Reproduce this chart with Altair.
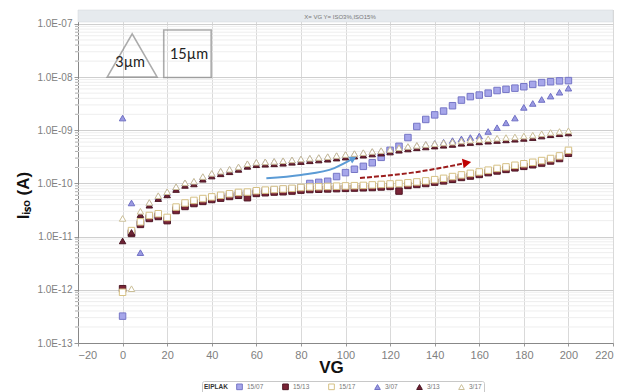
import altair as alt
import pandas as pd

VG = list(range(0, 201, 4))

S15_07 = [3.2e-13, 1.2e-11, 1.8e-11, 2.3e-11, 2.5e-11, 2.1e-11, 3.3e-11, 3.9e-11, 4.4e-11, 4.8e-11,
          5.2e-11, 5.7e-11, 6.1e-11, 6.5e-11, 6.6e-11, 7.0e-11, 7.3e-11, 7.5e-11, 7.7e-11, 7.9e-11,
          8.3e-11, 1.0e-10, 1.05e-10, 1.1e-10, 1.35e-10, 1.6e-10, 1.85e-10, 2.1e-10, 2.45e-10, 3.1e-10,
          4.2e-10, 5.0e-10, 7.3e-10, 1.18e-9, 1.6e-9, 1.95e-9, 2.3e-9, 2.9e-9, 3.7e-9, 4.3e-9,
          4.6e-9, 5.0e-9, 5.6e-9, 5.9e-9, 6.2e-9, 6.6e-9, 7.3e-9, 7.9e-9, 8.2e-9, 8.5e-9,
          8.6e-9]
S15_13 = [1.05e-12, 1.15e-11, 1.7e-11, 2.2e-11, 2.4e-11, 2.0e-11, 3.1e-11, 3.7e-11, 4.2e-11, 4.6e-11,
          5.0e-11, 5.3e-11, 5.7e-11, 6.0e-11, 5.4e-11, 6.5e-11, 6.7e-11, 6.9e-11, 7.0e-11, 7.2e-11,
          7.5e-11, 7.7e-11, 7.8e-11, 7.9e-11, 8.0e-11, 8.1e-11, 8.2e-11, 8.3e-11, 8.4e-11, 8.6e-11,
          8.8e-11, 7.2e-11, 9.2e-11, 9.6e-11, 1.0e-10, 1.06e-10, 1.12e-10, 1.2e-10, 1.3e-10, 1.38e-10,
          1.48e-10, 1.6e-10, 1.72e-10, 1.84e-10, 1.97e-10, 2.1e-10, 2.25e-10, 2.42e-10, 2.65e-10, 2.95e-10,
          3.7e-10]
S15_17 = [9.0e-13, 1.3e-11, 1.9e-11, 2.5e-11, 2.7e-11, 2.3e-11, 3.6e-11, 4.3e-11, 4.8e-11, 5.2e-11,
          5.6e-11, 6.0e-11, 6.4e-11, 6.8e-11, 6.9e-11, 7.3e-11, 7.5e-11, 7.7e-11, 7.9e-11, 8.1e-11,
          8.4e-11, 8.6e-11, 8.7e-11, 8.8e-11, 8.9e-11, 9.0e-11, 9.1e-11, 9.2e-11, 9.4e-11, 9.6e-11,
          9.8e-11, 1.0e-10, 1.03e-10, 1.07e-10, 1.12e-10, 1.18e-10, 1.25e-10, 1.35e-10, 1.45e-10, 1.55e-10,
          1.65e-10, 1.78e-10, 1.92e-10, 2.05e-10, 2.2e-10, 2.35e-10, 2.5e-10, 2.7e-10, 2.95e-10, 3.3e-10,
          4.2e-10]
S3_07 = [1.7e-9, 4.3e-11, 5.0e-12, 4.3e-11, 5.7e-11, 6.8e-11, 8.5e-11, 1.02e-10, 1.08e-10, 1.32e-10,
         1.52e-10, 1.68e-10, 1.82e-10, 2.02e-10, 2.32e-10, 2.47e-10, 2.52e-10, 2.58e-10, 2.64e-10, 2.74e-10,
         2.84e-10, 2.94e-10, 3.04e-10, 3.15e-10, 3.3e-10, 3.45e-10, 3.6e-10, 3.75e-10, 3.95e-10, 4.1e-10,
         4.3e-10, 4.65e-10, 4.9e-10, 5.15e-10, 5.4e-10, 5.65e-10, 5.95e-10, 6.4e-10, 6.9e-10, 7.3e-10,
         7.8e-10, 9.5e-10, 1.12e-9, 1.38e-9, 1.7e-9, 2.7e-9, 3.2e-9, 3.8e-9, 4.4e-9, 5.2e-9,
         6.2e-9]
S3_13 = [8.3e-12, 1.2e-11, 2.6e-11, 3.9e-11, 5.2e-11, 6.1e-11, 7.7e-11, 9.2e-11, 9.8e-11, 1.2e-10,
         1.38e-10, 1.52e-10, 1.66e-10, 1.84e-10, 2.1e-10, 2.25e-10, 2.3e-10, 2.34e-10, 2.4e-10, 2.5e-10,
         2.58e-10, 2.67e-10, 2.76e-10, 2.86e-10, 3.0e-10, 3.13e-10, 3.27e-10, 3.4e-10, 3.58e-10, 3.72e-10,
         3.9e-10, 4.22e-10, 4.45e-10, 4.68e-10, 4.86e-10, 5.05e-10, 5.23e-10, 5.42e-10, 5.7e-10, 5.88e-10,
         6.06e-10, 6.25e-10, 6.43e-10, 6.6e-10, 6.8e-10, 7.05e-10, 7.3e-10, 7.8e-10, 8.25e-10, 8.6e-10,
         8.9e-10]
S3_17 = [2.2e-11, 1.05e-12, 3.0e-11, 4.4e-11, 5.9e-11, 7.0e-11, 8.7e-11, 1.03e-10, 1.1e-10, 1.35e-10,
         1.55e-10, 1.7e-10, 1.85e-10, 2.05e-10, 2.35e-10, 2.5e-10, 2.55e-10, 2.6e-10, 2.68e-10, 2.78e-10,
         2.88e-10, 2.98e-10, 3.08e-10, 3.2e-10, 3.35e-10, 3.5e-10, 3.65e-10, 3.8e-10, 4.0e-10, 4.15e-10,
         4.35e-10, 4.7e-10, 4.95e-10, 5.2e-10, 5.4e-10, 5.6e-10, 5.8e-10, 6.0e-10, 6.3e-10, 6.5e-10,
         6.7e-10, 6.9e-10, 7.1e-10, 7.3e-10, 7.5e-10, 7.8e-10, 8.1e-10, 8.6e-10, 9.1e-10, 9.5e-10,
         9.8e-10]

SERIES = ["15/07", "15/13", "15/17", "3/07", "3/13", "3/17"]
SHAPES = ["square", "square", "square", "triangle-up", "triangle-up", "triangle-up"]
FILLS = ["#a6a6ea", "#7a2436", "#ffffff", "#9a9ae2", "#6e2234", "#ffffff"]
STROKES = ["#7676c6", "#4e1624", "#d6c184", "#7070c4", "#4a1422", "#cbbf98"]

Y_TICKS = [1e-13, 1e-12, 1e-11, 1e-10, 1e-9, 1e-8, 1e-7]
X_TICKS = list(range(-20, 221, 20))

# annotation anchors (data units)
ANN_TRI = {"VG": 4.3, "I": 2.55e-8}
ANN_TRI_TXT = {"VG": 3.4, "I": 1.85e-8, "t": "3µm"}
ANN_SQ = {"VG": 29.1, "I": 2.75e-8}
ANN_SQ_TXT = {"VG": 29.8, "I": 2.6e-8, "t": "15µm"}
BLUE_ARROW_VG = [64.5, 80, 95, 103.5]
BLUE_ARROW_I = [1.26e-10, 1.45e-10, 1.95e-10, 2.95e-10]
RED_ARROW_VG = [106.5, 130, 154.5]
RED_ARROW_I = [1.27e-10, 1.6e-10, 2.45e-10]

rows = []
for name, vals in zip(SERIES, [S15_07, S15_13, S15_17, S3_07, S3_13, S3_17]):
    for v, y in zip(VG, vals):
        rows.append({"VG": v, "I": y, "series": name})
df = pd.DataFrame(rows)

minor = []
for e in range(-13, -7):
    for m in range(2, 10):
        minor.append({"I": m * 10.0 ** e})
minor_df = pd.DataFrame(minor)

FONT = "Liberation Sans"
label_expr = ("'1.0E-' + (abs(round(log(datum.value)/LN10)) < 10 ? '0' : '') + "
              "abs(round(log(datum.value)/LN10))")

xscale = alt.Scale(domain=[-20, 220], nice=False, zero=False)
yscale = alt.Scale(type="log", domain=[1e-13, 1.83e-7], nice=False)

xaxis = alt.Axis(values=X_TICKS, title="VG", labelFont=FONT, labelFontSize=11,
                 labelColor="#808080", tickSize=3, tickColor="#999", domainColor="#888",
                 gridColor="#d9d9d9", labelPadding=3, titleFont=FONT, titleFontSize=17,
                 titleFontWeight="bold", titleColor="#111", titleX=253, titleY=24,
                 titleBaseline="middle")
yaxis = alt.Axis(values=Y_TICKS, labelExpr=label_expr, title="Iᵢₛₒ (A)", labelFont=FONT,
                 labelFontSize=10, labelColor="#808080", tickSize=4, tickColor="#999",
                 domainColor="#888", gridColor="#cfcfcf", labelPadding=2, titleFont=FONT,
                 titleFontSize=17, titleFontWeight="bold", titleColor="#111",
                 titleX=-55, titleY=185, titleAngle=270, titleAlign="center",
                 titleBaseline="middle")


def X():
    return alt.X("VG:Q", scale=xscale, axis=xaxis)


def Y():
    return alt.Y("I:Q", scale=yscale, axis=yaxis)


dummy = alt.Data(values=[{}])

header = alt.Chart(dummy).mark_rect(fill="#e6eaee", stroke="#d0d4d8", strokeWidth=0.5).encode(
    x=alt.value(0), x2=alt.value(535), y=alt.value(0), y2=alt.value(12))
header_txt = alt.Chart(dummy).mark_text(fontSize=6, color="#777", font=FONT).encode(
    x=alt.value(262), y=alt.value(6.5), text=alt.value("X= VG  Y= ISO3%,ISO15%"))

minor_grid = alt.Chart(minor_df).mark_rule(color="#eeeeee", strokeWidth=1).encode(
    y=Y(), x=alt.value(0), x2=alt.value(535))
minor_ticks = alt.Chart(minor_df).mark_rule(color="#999999", strokeWidth=0.8).encode(
    y=Y(), x=alt.value(-3), x2=alt.value(0))

leg = alt.Legend(title="EIPLAK", orient="none", legendX=124, legendY=371, direction="horizontal",
                 titleOrient="left", titleFontSize=6.5, titleFont=FONT, titleFontWeight="bold",
                 titleColor="#333", labelFontSize=6.5, labelFont=FONT, labelColor="#777",
                 symbolSize=32, columnPadding=16, padding=2, strokeColor="#c8c8c8",
                 fillColor="#ffffff", cornerRadius=2, symbolStrokeWidth=1, titlePadding=8,
                 labelOffset=4)

points = alt.Chart(df).mark_point(filled=False, size=42, strokeWidth=1, opacity=1).encode(
    x=X(), y=Y(),
    shape=alt.Shape("series:N", scale=alt.Scale(domain=SERIES, range=SHAPES), legend=leg),
    fill=alt.Fill("series:N", scale=alt.Scale(domain=SERIES, range=FILLS), legend=leg),
    stroke=alt.Stroke("series:N", scale=alt.Scale(domain=SERIES, range=STROKES), legend=leg),
)

tri = alt.Chart(alt.Data(values=[ANN_TRI])).mark_point(
    shape="triangle-up", size=2500, filled=False, stroke="#8a8a8a", strokeWidth=1.6).encode(
    x=X(), y=Y())
tri_txt = alt.Chart(alt.Data(values=[ANN_TRI_TXT])).mark_text(
    fontSize=14.5, font="Lato", color="#222").encode(x=X(), y=Y(), text="t:N")
sq = alt.Chart(alt.Data(values=[ANN_SQ])).mark_point(
    shape="square", size=2250, filled=False, stroke="#8a8a8a", strokeWidth=1.6).encode(
    x=X(), y=Y())
sq_txt = alt.Chart(alt.Data(values=[ANN_SQ_TXT])).mark_text(
    fontSize=14.5, font="Lato", color="#222").encode(x=X(), y=Y(), text="t:N")

blue_df = pd.DataFrame({"VG": BLUE_ARROW_VG, "I": BLUE_ARROW_I, "k": list(range(len(BLUE_ARROW_VG)))})
red_df = pd.DataFrame({"VG": RED_ARROW_VG, "I": RED_ARROW_I, "k": list(range(len(RED_ARROW_VG)))})

blue_line = alt.Chart(blue_df).mark_line(color="#5b9bd5", strokeWidth=2, interpolate="monotone").encode(
    x=X(), y=Y(), order="k:Q")
blue_head = alt.Chart(blue_df.tail(1)).mark_point(
    shape="triangle-right", size=60, filled=True, color="#5b9bd5", angle=332, opacity=1).encode(
    x=X(), y=Y())
red_line = alt.Chart(red_df).mark_line(color="#9b1c1c", strokeWidth=2, strokeDash=[5, 2],
                                       interpolate="monotone").encode(
    x=X(), y=Y(), order="k:Q")
red_head = alt.Chart(red_df.tail(1)).mark_point(
    shape="triangle-right", size=95, filled=True, color="#c00000", angle=350, opacity=1).encode(
    x=X(), y=Y())

chart = alt.layer(
    minor_grid, minor_ticks, header, header_txt, points, blue_line, blue_head, red_line, red_head,
    tri, tri_txt, sq, sq_txt
).properties(
    width=535, height=333,
    autosize=alt.AutoSizeParams(type="none"),
    padding={"left": 78, "top": 10, "right": 8, "bottom": 49},
    background="white",
).configure_view(stroke="#c8c8c8")

chart.save("out.html", embed_options={"renderer": "svg", "actions": False})
